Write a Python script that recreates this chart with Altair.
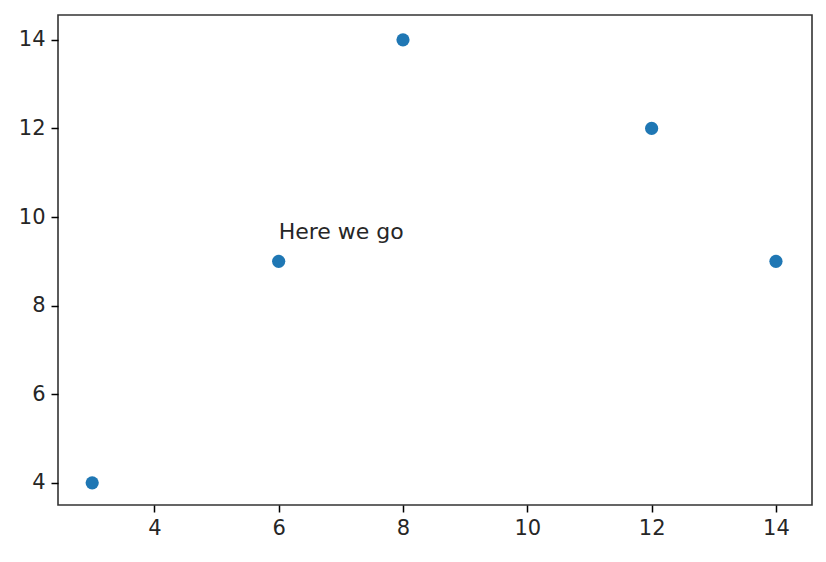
import altair as alt
import pandas as pd

xs = [3, 6, 8, 12, 14]
ys = [4, 9, 14, 12, 9]
ann_text = ["Here we go"]
ann_x = [6]
ann_y = [9.5]
x_ticks = [4, 6, 8, 10, 12, 14]
y_ticks = [4, 6, 8, 10, 12, 14]

df = pd.DataFrame({"x": xs, "y": ys})
ann = pd.DataFrame({"x": ann_x, "y": ann_y, "t": ann_text})

FONT = "DejaVu Sans"
FS = 21

xscale = alt.Scale(domain=[2.45, 14.58], nice=False, zero=False)
yscale = alt.Scale(domain=[3.5, 14.56], nice=False, zero=False)

xaxis = alt.Axis(values=x_ticks, format="d", title=None, grid=False, tickSize=7, tickWidth=1.5,
                 tickColor="black", domain=False, labelFont=FONT, labelFontSize=FS,
                 labelColor="#262626", labelPadding=5, labelFlush=False)
yaxis = alt.Axis(values=y_ticks, format="d", title=None, grid=False, tickSize=7, tickWidth=1.5,
                 tickColor="black", domain=False, labelFont=FONT, labelFontSize=FS,
                 labelColor="#262626", labelPadding=6)

pts = alt.Chart(df).mark_circle(size=175, color="#1f77b4", opacity=1).encode(
    x=alt.X("x:Q", scale=xscale, axis=xaxis),
    y=alt.Y("y:Q", scale=yscale, axis=yaxis),
)

txt = alt.Chart(ann).mark_text(align="left", baseline="alphabetic", font=FONT,
                               fontSize=22, color="#262626").encode(
    x=alt.X("x:Q", scale=xscale),
    y=alt.Y("y:Q", scale=yscale),
    text="t:N",
)

chart = (pts + txt).properties(
    width=754, height=490,
    background="white",
    autosize=alt.AutoSizeParams(type="none"),
    padding={"left": 50, "top": 7, "right": 4, "bottom": 40},
).configure_view(stroke="#333333", strokeWidth=1.6)

chart.save("out.html", embed_options={"renderer": "svg", "actions": False})
